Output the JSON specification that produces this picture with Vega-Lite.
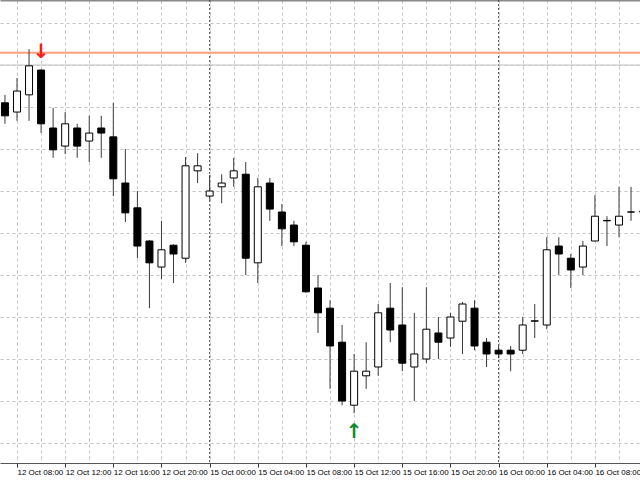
{
  "$schema": "https://vega.github.io/schema/vega-lite/v6.json",
  "width": 640,
  "height": 463,
  "autosize": {"type": "none"},
  "padding": {"left": 0, "top": 0, "right": 0, "bottom": 17},
  "background": "white",
  "config": {"view": {"stroke": null}, "axis": {"labelFont": "Liberation Sans"}, "scale": {"continuousPadding": 0}},
  "data": {
    "values": [
      {"t": "2012-10-12 07:00", "i": 0, "open": 1.29810, "high": 1.29829, "low": 1.29760, "close": 1.29779},
      {"t": "2012-10-12 08:00", "i": 1, "open": 1.29788, "high": 1.29869, "low": 1.29767, "close": 1.29838},
      {"t": "2012-10-12 09:00", "i": 2, "open": 1.29829, "high": 1.29938, "low": 1.29767, "close": 1.29898},
      {"t": "2012-10-12 10:00", "i": 3, "open": 1.29888, "high": 1.29890, "low": 1.29738, "close": 1.29760},
      {"t": "2012-10-12 11:00", "i": 4, "open": 1.29750, "high": 1.29798, "low": 1.29679, "close": 1.29698},
      {"t": "2012-10-12 12:00", "i": 5, "open": 1.29707, "high": 1.29788, "low": 1.29688, "close": 1.29760},
      {"t": "2012-10-12 13:00", "i": 6, "open": 1.29750, "high": 1.29760, "low": 1.29679, "close": 1.29707},
      {"t": "2012-10-12 14:00", "i": 7, "open": 1.29719, "high": 1.29779, "low": 1.29669, "close": 1.29738},
      {"t": "2012-10-12 15:00", "i": 8, "open": 1.29750, "high": 1.29779, "low": 1.29679, "close": 1.29738},
      {"t": "2012-10-12 16:00", "i": 9, "open": 1.29729, "high": 1.29810, "low": 1.29588, "close": 1.29629},
      {"t": "2012-10-12 17:00", "i": 10, "open": 1.29619, "high": 1.29700, "low": 1.29526, "close": 1.29548},
      {"t": "2012-10-12 18:00", "i": 11, "open": 1.29560, "high": 1.29600, "low": 1.29440, "close": 1.29469},
      {"t": "2012-10-12 19:00", "i": 12, "open": 1.29481, "high": 1.29483, "low": 1.29321, "close": 1.29429},
      {"t": "2012-10-12 20:00", "i": 13, "open": 1.29419, "high": 1.29529, "low": 1.29390, "close": 1.29460},
      {"t": "2012-10-12 21:00", "i": 14, "open": 1.29471, "high": 1.29473, "low": 1.29381, "close": 1.29450},
      {"t": "2012-10-12 22:00", "i": 15, "open": 1.29440, "high": 1.29681, "low": 1.29429, "close": 1.29660},
      {"t": "2012-10-12 23:00", "i": 16, "open": 1.29648, "high": 1.29690, "low": 1.29619, "close": 1.29660},
      {"t": "2012-10-15 00:00", "i": 17, "open": 1.29588, "high": 1.29638, "low": 1.29579, "close": 1.29600},
      {"t": "2012-10-15 01:00", "i": 18, "open": 1.29610, "high": 1.29640, "low": 1.29571, "close": 1.29619},
      {"t": "2012-10-15 02:00", "i": 19, "open": 1.29631, "high": 1.29679, "low": 1.29610, "close": 1.29648},
      {"t": "2012-10-15 03:00", "i": 20, "open": 1.29640, "high": 1.29669, "low": 1.29400, "close": 1.29440},
      {"t": "2012-10-15 04:00", "i": 21, "open": 1.29429, "high": 1.29631, "low": 1.29381, "close": 1.29610},
      {"t": "2012-10-15 05:00", "i": 22, "open": 1.29619, "high": 1.29631, "low": 1.29529, "close": 1.29557},
      {"t": "2012-10-15 06:00", "i": 23, "open": 1.29550, "high": 1.29569, "low": 1.29469, "close": 1.29510},
      {"t": "2012-10-15 07:00", "i": 24, "open": 1.29519, "high": 1.29529, "low": 1.29469, "close": 1.29479},
      {"t": "2012-10-15 08:00", "i": 25, "open": 1.29471, "high": 1.29479, "low": 1.29358, "close": 1.29360},
      {"t": "2012-10-15 09:00", "i": 26, "open": 1.29369, "high": 1.29400, "low": 1.29262, "close": 1.29310},
      {"t": "2012-10-15 10:00", "i": 27, "open": 1.29321, "high": 1.29340, "low": 1.29129, "close": 1.29231},
      {"t": "2012-10-15 11:00", "i": 28, "open": 1.29240, "high": 1.29281, "low": 1.29090, "close": 1.29100},
      {"t": "2012-10-15 12:00", "i": 29, "open": 1.29090, "high": 1.29212, "low": 1.29071, "close": 1.29171},
      {"t": "2012-10-15 13:00", "i": 30, "open": 1.29160, "high": 1.29240, "low": 1.29129, "close": 1.29171},
      {"t": "2012-10-15 14:00", "i": 31, "open": 1.29181, "high": 1.29331, "low": 1.29160, "close": 1.29310},
      {"t": "2012-10-15 15:00", "i": 32, "open": 1.29321, "high": 1.29381, "low": 1.29240, "close": 1.29269},
      {"t": "2012-10-15 16:00", "i": 33, "open": 1.29281, "high": 1.29371, "low": 1.29171, "close": 1.29190},
      {"t": "2012-10-15 17:00", "i": 34, "open": 1.29181, "high": 1.29310, "low": 1.29100, "close": 1.29212},
      {"t": "2012-10-15 18:00", "i": 35, "open": 1.29200, "high": 1.29371, "low": 1.29190, "close": 1.29271},
      {"t": "2012-10-15 19:00", "i": 36, "open": 1.29262, "high": 1.29300, "low": 1.29200, "close": 1.29240},
      {"t": "2012-10-15 20:00", "i": 37, "open": 1.29250, "high": 1.29310, "low": 1.29229, "close": 1.29300},
      {"t": "2012-10-15 21:00", "i": 38, "open": 1.29290, "high": 1.29336, "low": 1.29212, "close": 1.29331},
      {"t": "2012-10-15 22:00", "i": 39, "open": 1.29321, "high": 1.29340, "low": 1.29221, "close": 1.29231},
      {"t": "2012-10-15 23:00", "i": 40, "open": 1.29240, "high": 1.29250, "low": 1.29181, "close": 1.29212},
      {"t": "2012-10-16 00:00", "i": 41, "open": 1.29221, "high": 1.29231, "low": 1.29202, "close": 1.29212},
      {"t": "2012-10-16 01:00", "i": 42, "open": 1.29221, "high": 1.29231, "low": 1.29171, "close": 1.29212},
      {"t": "2012-10-16 02:00", "i": 43, "open": 1.29221, "high": 1.29300, "low": 1.29212, "close": 1.29281},
      {"t": "2012-10-16 03:00", "i": 44, "open": 1.29290, "high": 1.29331, "low": 1.29250, "close": 1.29291},
      {"t": "2012-10-16 04:00", "i": 45, "open": 1.29281, "high": 1.29490, "low": 1.29271, "close": 1.29460},
      {"t": "2012-10-16 05:00", "i": 46, "open": 1.29469, "high": 1.29490, "low": 1.29400, "close": 1.29450},
      {"t": "2012-10-16 06:00", "i": 47, "open": 1.29440, "high": 1.29450, "low": 1.29369, "close": 1.29412},
      {"t": "2012-10-16 07:00", "i": 48, "open": 1.29419, "high": 1.29481, "low": 1.29400, "close": 1.29469},
      {"t": "2012-10-16 08:00", "i": 49, "open": 1.29481, "high": 1.29590, "low": 1.29480, "close": 1.29540},
      {"t": "2012-10-16 09:00", "i": 50, "open": 1.29529, "high": 1.29540, "low": 1.29469, "close": 1.29530},
      {"t": "2012-10-16 10:00", "i": 51, "open": 1.29519, "high": 1.29610, "low": 1.29490, "close": 1.29540},
      {"t": "2012-10-16 11:00", "i": 52, "open": 1.29550, "high": 1.29610, "low": 1.29529, "close": 1.29550},
      {"t": "2012-10-16 12:00", "i": 53, "open": 1.29550, "high": 1.29567, "low": 1.29543, "close": 1.29552}
    ]
  },
  "layer": [
    {
      "data": {"values": [{"t": "2012-10-15 00:00", "i": 17}, {"t": "2012-10-16 00:00", "i": 41}]},
      "mark": {"type": "rule", "color": "#4a4a4a", "strokeDash": [2, 2], "strokeWidth": 1},
      "encoding": {
        "x": {
          "field": "i", "type": "quantitative",
          "scale": {"domain": [-0.412, 52.744], "nice": false, "zero": false, "padding": 0},
          "axis": {"orient": "top", "labels": false, "ticks": false, "grid": false, "domain": true, "domainColor": "#8a8a8a", "domainWidth": 2, "title": null}
        }
      }
    },
    {
      "data": {"values": [{"name": "level", "price": 1.29929}]},
      "mark": {"type": "rule", "color": "#FFA07A", "strokeWidth": 2},
      "encoding": {
        "y": {"field": "price", "type": "quantitative", "scale": {"domain": [1.289524, 1.300548], "nice": false, "zero": false, "padding": 0}, "axis": null}
      }
    },
    {
      "data": {"values": [{"name": "line", "price": 1.29900}]},
      "mark": {"type": "rule", "color": "#C0C0C0", "strokeWidth": 1},
      "encoding": {
        "y": {"field": "price", "type": "quantitative", "scale": {"domain": [1.289524, 1.300548], "nice": false, "zero": false, "padding": 0}, "axis": null}
      }
    },
    {
      "mark": {"type": "rule", "color": "#3a3a3a", "strokeWidth": 1, "clip": true},
      "encoding": {
        "x": {
          "field": "i", "type": "quantitative",
          "scale": {"domain": [-0.412, 52.744], "nice": false, "zero": false, "padding": 0},
          "axis": {"orient": "bottom", "labels": false, "ticks": false, "domain": false, "grid": true, "gridColor": "#c4c4c4", "gridDash": [3, 3], "gridWidth": 1, "title": null,
            "values": [-1, 1, 3, 5, 7, 9, 11, 13, 15, 17, 19, 21, 23, 25, 27, 29, 31, 33, 35, 37, 39, 41, 43, 45, 47, 49, 51]}
        },
        "y": {
          "field": "low", "type": "quantitative",
          "scale": {"domain": [1.289524, 1.300548], "nice": false, "zero": false, "padding": 0},
          "axis": {"labels": false, "ticks": false, "domain": false, "grid": true, "gridColor": "#c4c4c4", "gridDash": [3, 3], "gridWidth": 1, "title": null,
            "values": [1.290, 1.291, 1.292, 1.293, 1.294, 1.295, 1.296, 1.297, 1.298, 1.299, 1.300]}
        },
        "y2": {"field": "high"}
      }
    },
    {
      "mark": {"type": "bar", "size": 7, "stroke": "#000000", "strokeWidth": 1, "clip": true},
      "encoding": {
        "x": {
          "field": "i", "type": "quantitative",
          "scale": {"domain": [-0.412, 52.744], "nice": false, "zero": false, "padding": 0},
          "axis": {
            "orient": "bottom", "title": null, "grid": false,
            "values": [-3, 1, 5, 9, 13, 17, 21, 25, 29, 33, 37, 41, 45, 49],
            "labelExpr": "['12 Oct 04:00','12 Oct 08:00','12 Oct 12:00','12 Oct 16:00','12 Oct 20:00','15 Oct 00:00','15 Oct 04:00','15 Oct 08:00','15 Oct 12:00','15 Oct 16:00','15 Oct 20:00','16 Oct 00:00','16 Oct 04:00','16 Oct 08:00'][(datum.value + 3) / 4]",
            "labelAlign": "left", "labelBaseline": "top", "labelFontSize": 8, "labelColor": "#000000",
            "labelPadding": 1, "labelOverlap": false, "labelBound": false, "labelFlush": false,
            "tickSize": 4, "tickColor": "#333333", "tickWidth": 1,
            "domainColor": "#555555", "domainWidth": 1
          }
        },
        "y": {"field": "open", "type": "quantitative", "scale": {"domain": [1.289524, 1.300548], "nice": false, "zero": false, "padding": 0}, "axis": null},
        "y2": {"field": "close"},
        "fill": {"condition": {"test": "datum.close >= datum.open", "value": "#ffffff"}, "value": "#000000"}
      }
    },
    {
      "data": {"values": [
        {"t": "2012-10-12 10:00", "i": 3, "price": 1.29931, "signal": "sell", "sym": "↓"},
        {"t": "2012-10-15 12:00", "i": 29, "price": 1.29026, "signal": "buy", "sym": "↑"}
      ]},
      "mark": {"type": "text", "font": "DejaVu Sans", "fontSize": 20, "fontWeight": "bold", "align": "center", "baseline": "middle"},
      "encoding": {
        "x": {"field": "i", "type": "quantitative", "scale": {"domain": [-0.412, 52.744], "nice": false, "zero": false, "padding": 0}, "axis": null},
        "y": {"field": "price", "type": "quantitative", "scale": {"domain": [1.289524, 1.300548], "nice": false, "zero": false, "padding": 0}, "axis": null},
        "text": {"field": "sym"},
        "color": {"condition": {"test": "datum.signal == 'sell'", "value": "#ff1a1a"}, "value": "#0a8a2a"}
      }
    }
  ],
  "resolve": {"axis": {"x": "independent", "y": "independent"}}
}
